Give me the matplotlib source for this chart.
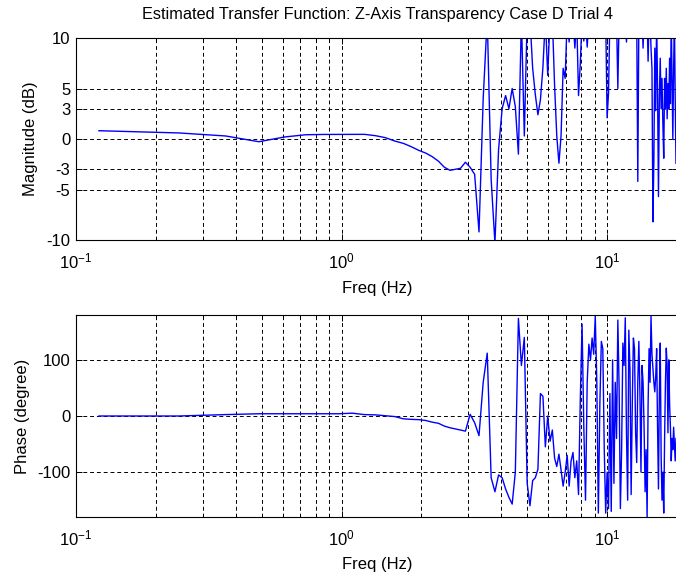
import numpy as np
import matplotlib
matplotlib.use("Agg")
import matplotlib.pyplot as plt
from matplotlib.ticker import LogLocator, NullFormatter

# frequency bin spacing of the estimate (Hz); bins start at 1*df
df = 0.122

# magnitude in dB, one value per frequency bin (values above 10 are clipped by the axes)
mag_db = [
    0.82, 0.6, 0.3, -0.27, 0.2, 0.42, 0.45, 0.45, 0.46, 0.46,
    0.33, 0.13, -0.2, -0.43, -0.76, -1.12, -1.39, -1.75, -2.2, -2.8,
    -3.1, -3.0, -2.9, -2.3, -2.8, -3.5, -9.2, 4, 12, -4,
    -10.3, -1.0, 3.0, 4.3, 3.0, 5.0, 3.2, -1.5, 12, 0.3,
    12, 12, 7, 4.4, 2.4, 3.9, 7.1, 12, 6.3, 12,
    12, 5.3, 0.3, -2.4, 0.3, 7, 6, 12, 9.6, 12,
    12, 9.0, 12, 4.3, 7.5, 12, 9.7, 12, 9.1, 12,
    12, 12, 12, 12, 12, 12, 12, 12, 12, 12,
    12, 2.1, 4.5, 12, 12, 12, 12, 12, 12, 5.0,
    12, 12, 12, 12, 12, 12, 9.6, 12, 12, 12,
    12, 12, 12, 12, 12, 12, -4.2, 12, 12, 12,
    12, 9, 12, 12, 12, 12, 7.7, 12, 12, 9,
    7, -8.2, -2.2, 9, 2.8, 12, 5, -5.7, 4, 8,
    3, 6, 1.5, -1.9, 6, 3, 7, 2, 5.5, 3,
    8, 3.5, 12, 6, 0, 7, 12, 4, -2.4,
]

# phase in degrees, same bins
phase_deg = [
    0, 0, 2.5, 4, 4, 4, 4, 4, 5, 2.5,
    2, 0.5, -1, -5, -6, -6.5, -8, -11, -13, -18,
    -21, -23, -25, -27, 3, -12, -35, 60, 112, -110,
    -135, -105, -110, -130, -145, -157, -100, 174, 90, 140,
    -120, -160, -115, -110, -95, 40, 35, -55, 0, -45,
    -25, -75, -90, -68, -96, -125, -100, -70, -125, -80,
    -65, -110, -80, -140, 30, 164, -20, -150, 60, 128,
    100, 139, 110, 178, 60, -173, 20, 133, 120, -60,
    -173, -100, -165, 40, -170, 100, -120, 60, -40, 171,
    50, -165, -60, 130, 90, 175, -30, -150, 153, 80,
    -140, 20, 139, 120, -30, -83, 60, 133, 40, -100,
    90, 60, -20, -135, -60, -180, 20, 120, 60, 178,
    110, 85, 60, 43, 70, 120, -20, -130, 40, 130,
    -70, -150, -100, -173, -40, 60, 121, 90, -30, 100,
    20, -20, -80, -40, -60, -20, -50, -80, -40,
]

mag_ticks = [-10, -5, -3, 0, 3, 5, 10]
phase_ticks = [-100, 0, 100]

freq = df * np.arange(1, len(mag_db) + 1)

W, H = 676, 577
plt.rcParams['font.family'] = ['Liberation Sans', 'DejaVu Sans']
plt.rcParams['font.size'] = 12
plt.rcParams['axes.unicode_minus'] = False
plt.rcParams['mathtext.fontset'] = 'custom'
plt.rcParams['mathtext.rm'] = 'Liberation Sans'
plt.rcParams['mathtext.it'] = 'Liberation Sans'

fig = plt.figure(figsize=(W / 100, H / 100), dpi=100)

def px_box(left, top, right, bottom):
    return [left / W, 1 - bottom / H, (right - left) / W, (bottom - top) / H]

ax1 = fig.add_axes(px_box(76, 38, 678, 240))
ax2 = fig.add_axes(px_box(76, 315, 678, 517))

grid_kw = dict(color='black', linewidth=0.7, linestyle=(0, (4, 3)))

for ax in (ax1, ax2):
    ax.set_xscale('log')
    ax.set_xlim(0.1, 18.5)
    ax.xaxis.set_major_locator(LogLocator(base=10, numticks=10))
    ax.xaxis.set_minor_locator(LogLocator(base=10, subs=np.arange(2, 10), numticks=20))
    ax.xaxis.set_minor_formatter(NullFormatter())
    ax.grid(True, which='major', **grid_kw)
    ax.grid(True, which='minor', axis='x', **grid_kw)
    ax.tick_params(which='both', direction='in', top=True, right=True, width=0.7, labelsize=12)
    ax.tick_params(which='major', length=4)
    ax.tick_params(which='minor', length=2.5)
    ax.tick_params(axis='x', pad=8)
    ax.tick_params(axis='y', pad=4)
    for s in ax.spines.values():
        s.set_linewidth(0.8)

ax1.plot(freq, mag_db, color='#0000ff', linewidth=1.0)
ax1.set_ylim(-10, 10)
ax1.set_yticks(mag_ticks)
ax1.set_ylabel('Magnitude (dB)', labelpad=6)

ax2.plot(freq, phase_deg, color='#0000ff', linewidth=1.0)
ax2.set_ylim(-180, 180)
ax2.set_yticks(phase_ticks)
ax2.set_ylabel('Phase (degree)', labelpad=5)

fig.text(377 / W, 1 - 14 / H, 'Estimated Transfer Function: Z-Axis Transparency Case D Trial 4',
         ha='center', va='center', fontsize=11.7)
fig.text(377 / W, 1 - 288 / H, 'Freq (Hz)', ha='center', va='center', fontsize=12)
fig.text(377 / W, 1 - 565 / H, 'Freq (Hz)', ha='center', va='center', fontsize=12)

fig.savefig('out.png', dpi=100)
